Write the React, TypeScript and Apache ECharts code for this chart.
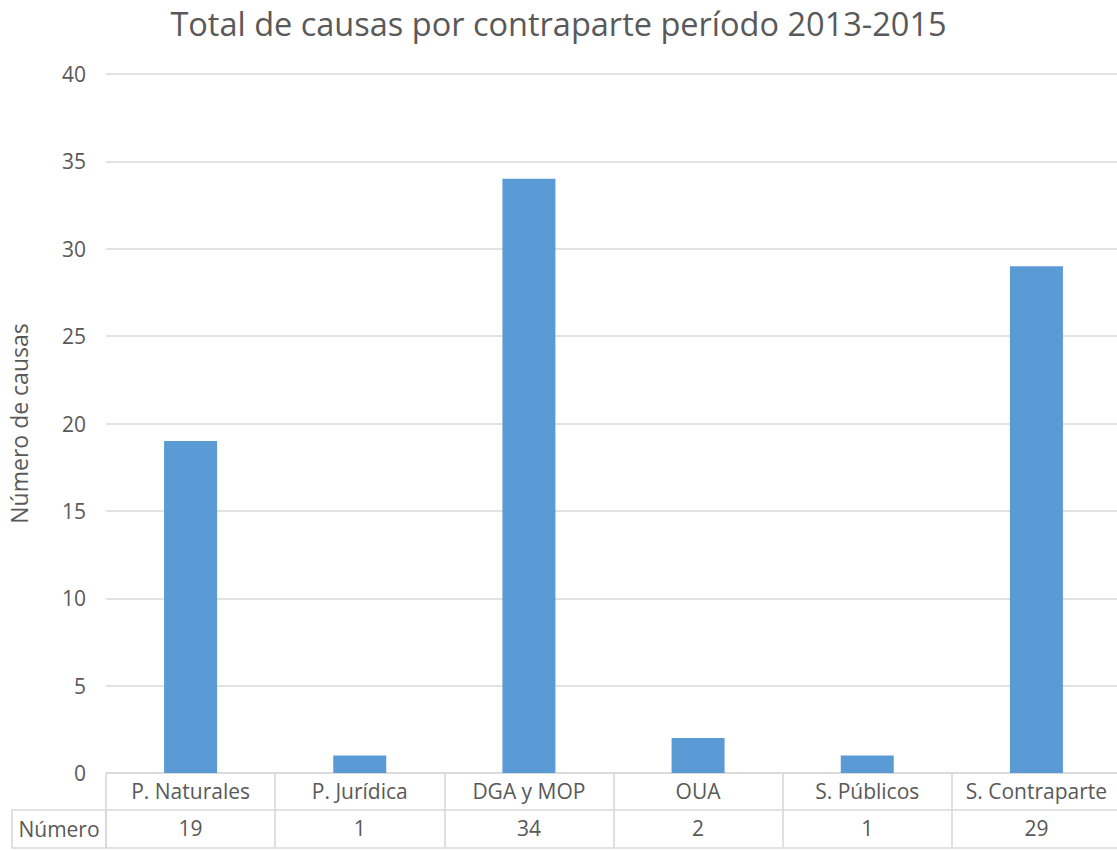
import React, { useEffect, useRef } from "react";
import * as echarts from "echarts";

const title = "Total de causas por contraparte período 2013-2015";
const categories = ["P. Naturales", "P. Jurídica", "DGA y MOP", "OUA", "S. Públicos", "S. Contraparte"];
const values = [19, 1, 34, 2, 1, 29];
const seriesName = "Número";
const yAxisName = "Número de causas";
const yMin = 0;
const yMax = 40;
const yInterval = 5;

const FONT = "'Open Sans', sans-serif";
const TXT = "#595959";
const LINE = "#D9D9D9";
const LW = 1.6;

export default function App() {
  const ref = useRef<HTMLDivElement>(null);
  useEffect(() => {
    if (!ref.current) return;
    const chart = echarts.init(ref.current, null, { renderer: "svg" });
    const axisCommon = {
      type: "category" as const,
      position: "bottom" as const,
      boundaryGap: true,
      axisLine: { show: true, lineStyle: { color: LINE, width: LW } },
      axisTick: { show: true, length: 37, interval: 0, lineStyle: { color: LINE, width: LW } },
      axisLabel: { color: TXT, fontSize: 21, fontFamily: FONT, margin: 7, interval: 0 },
    };
    chart.setOption({
      animation: false,
      backgroundColor: "#ffffff",
      title: {
        text: title,
        left: "center",
        top: 2,
        textStyle: { color: TXT, fontSize: 32.5, fontWeight: "normal", fontFamily: FONT },
      },
      grid: { left: 106, right: -4, top: 74, bottom: 77, containLabel: false, outerBoundsMode: "none" },
      xAxis: [
        { ...axisCommon, data: categories },
        { ...axisCommon, data: values.map((v) => String(v)), offset: 37 },
        {
          ...axisCommon,
          data: categories,
          offset: 75,
          axisTick: { show: false },
          axisLabel: { show: false },
        },
      ],
      yAxis: {
        type: "value",
        min: yMin,
        max: yMax,
        interval: yInterval,
        name: yAxisName,
        nameLocation: "middle",
        nameRotate: 90,
        nameGap: 76,
        nameTextStyle: { color: TXT, fontSize: 23, fontFamily: FONT },
        axisLine: { show: false },
        axisTick: { show: false },
        axisLabel: { color: TXT, fontSize: 21, fontFamily: FONT, margin: 20 },
        splitLine: { show: true, lineStyle: { color: LINE, width: LW } },
      },
      series: [
        {
          name: seriesName,
          type: "bar",
          data: values,
          barWidth: 53,
          itemStyle: { color: "#5B9BD5" },
        },
      ],
      graphic: [
        {
          type: "rect",
          shape: { x: 12, y: 810, width: 94, height: 38 },
          style: { fill: "none", stroke: LINE, lineWidth: LW },
        },
        {
          type: "text",
          x: 59,
          y: 829,
          style: {
            text: seriesName,
            fill: TXT,
            font: `21px ${FONT}`,
            textAlign: "center",
            textVerticalAlign: "middle",
          },
        },
      ],
    });
    return () => chart.dispose();
  }, []);
  return (
    <div
      ref={ref}
      style={{ position: "absolute", left: 0, top: 0, width: 1117, height: 850, background: "#fff" }}
    />
  );
}
